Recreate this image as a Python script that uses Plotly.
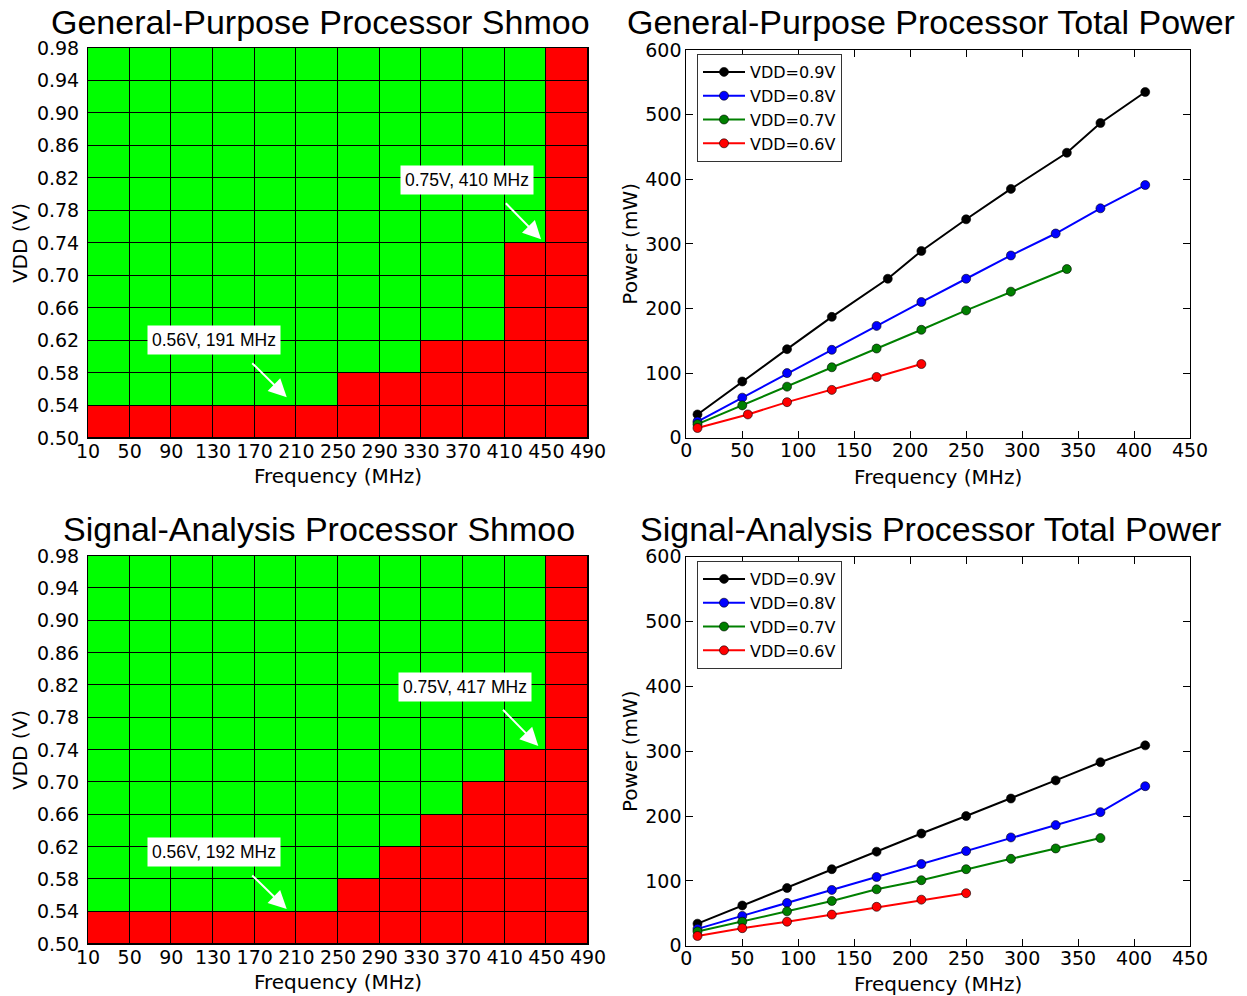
import plotly.graph_objects as go

# ---- shmoo grid axes ----
freq_ticks = [10, 50, 90, 130, 170, 210, 250, 290, 330, 370, 410, 450, 490]
vdd_ticks = [0.50, 0.54, 0.58, 0.62, 0.66, 0.70, 0.74, 0.78, 0.82, 0.86, 0.90, 0.94, 0.98]

# first failing frequency bin (MHz) for each VDD row, bottom row first
gp_first_fail = [10, 250, 330, 410, 410, 410, 450, 450, 450, 450, 450, 450]
sa_first_fail = [10, 250, 290, 330, 370, 410, 450, 450, 450, 450, 450, 450]

# ---- total power curves (mW) ----
gp_f_09 = [10, 50, 90, 130, 180, 210, 250, 290, 340, 370, 410]
gp_p_09 = [36, 87, 137, 187, 246, 289, 338, 385, 441, 487, 535]
gp_f_08 = [10, 50, 90, 130, 170, 210, 250, 290, 330, 370, 410]
gp_p_08 = [25, 62, 100, 136, 173, 210, 246, 282, 316, 355, 391]
gp_f_07 = [10, 50, 90, 130, 170, 210, 250, 290, 340]
gp_p_07 = [21, 50, 79, 109, 138, 167, 197, 226, 261]
gp_f_06 = [10, 55, 90, 130, 170, 210]
gp_p_06 = [15, 36, 55, 74, 94, 114]

sa_f_09 = [10, 50, 90, 130, 170, 210, 250, 290, 330, 370, 410]
sa_p_09 = [34, 62, 89, 118, 145, 173, 200, 227, 255, 283, 309]
sa_f_08 = [10, 50, 90, 130, 170, 210, 250, 290, 330, 370, 410]
sa_p_08 = [26, 46, 66, 86, 106, 126, 146, 167, 186, 206, 246]
sa_f_07 = [10, 50, 90, 130, 170, 210, 250, 290, 330, 370]
sa_p_07 = [22, 37, 53, 69, 87, 101, 118, 134, 150, 166]
sa_f_06 = [10, 50, 90, 130, 170, 210, 250]
sa_p_06 = [15, 27, 37, 48, 60, 71, 81]

vdd_labels = ["VDD=0.9V", "VDD=0.8V", "VDD=0.7V", "VDD=0.6V"]
line_colors = ["#000000", "#0000ff", "#008000", "#ff0000"]

power_x_ticks = [0, 50, 100, 150, 200, 250, 300, 350, 400, 450]
power_y_ticks = [0, 100, 200, 300, 400, 500, 600]

# annotation callouts: (text, text centre, arrow tail, arrow tip)
gp_notes = [
    ("0.75V, 410 MHz", (374.3, 0.8175), (409.7, 0.7908), (444.9, 0.7446)),
    ("0.56V, 191 MHz", (130.8, 0.6202), (166.2, 0.5939), (200.8, 0.5501)),
]
sa_notes = [
    ("0.75V, 417 MHz", (371.9, 0.8176), (407.0, 0.7916), (442.3, 0.7450)),
    ("0.56V, 192 MHz", (130.8, 0.6136), (166.2, 0.5866), (200.8, 0.5432)),
]

W, H = 1247, 996
TICK_FONT = dict(family="DejaVu Sans", size=19, color="#000000")
LABEL_FONT = dict(family="DejaVu Sans", size=20, color="#000000")
TITLE_FONT = dict(family="Liberation Sans", size=34, color="#000000")


def px_x(p):
    return p / W


def px_y(p):
    return 1 - p / H


def shmoo_z(first_fail):
    lefts = freq_ticks[:-1]
    return [[1 if f < ff else 0 for f in lefts] for ff in first_fail]


fig = go.Figure()

cell_x = [(a + b) / 2 for a, b in zip(freq_ticks[:-1], freq_ticks[1:])]
cell_y = [(a + b) / 2 for a, b in zip(vdd_ticks[:-1], vdd_ticks[1:])]

for first_fail, xa, ya in [(gp_first_fail, "x", "y"), (sa_first_fail, "x3", "y3")]:
    fig.add_trace(go.Heatmap(
        x=cell_x, y=cell_y, z=shmoo_z(first_fail),
        colorscale=[[0, "#ff0000"], [1, "#00ff00"]], zmin=0, zmax=1,
        showscale=False, xgap=1, ygap=1, hoverinfo="skip",
        xaxis=xa, yaxis=ya,
    ))
    # black backing so cell gaps read as grid lines
    fig.add_shape(type="rect", xref=xa, yref=ya,
                  x0=freq_ticks[0], x1=freq_ticks[-1], y0=vdd_ticks[0], y1=vdd_ticks[-1],
                  fillcolor="#000000", line_width=0, layer="below")

power_sets = [
    ([(gp_f_09, gp_p_09), (gp_f_08, gp_p_08), (gp_f_07, gp_p_07), (gp_f_06, gp_p_06)], "x2", "y2", "legend"),
    ([(sa_f_09, sa_p_09), (sa_f_08, sa_p_08), (sa_f_07, sa_p_07), (sa_f_06, sa_p_06)], "x4", "y4", "legend2"),
]
for series, xa, ya, leg in power_sets:
    for (fx, py), name, col in zip(series, vdd_labels, line_colors):
        fig.add_trace(go.Scatter(
            x=fx, y=py, name=name, mode="lines+markers",
            line=dict(color=col, width=2),
            marker=dict(color=col, size=9, line=dict(color="#000000", width=0.6)),
            xaxis=xa, yaxis=ya, legend=leg, legendgroup=leg + name,
        ))

annotations = []
for notes, xa, ya in [(gp_notes, "x", "y"), (sa_notes, "x3", "y3")]:
    for text, (tx, ty), (ax, ay), (hx, hy) in notes:
        annotations.append(dict(
            x=hx, y=hy, ax=ax, ay=ay, xref=xa, yref=ya, axref=xa, ayref=ya,
            text="", showarrow=True, arrowhead=2, arrowsize=1.8, arrowwidth=2,
            arrowcolor="#ffffff",
        ))
        annotations.append(dict(
            x=tx, y=ty, xref=xa, yref=ya, text=text, showarrow=False,
            font=dict(family="Liberation Sans", size=17.5, color="#000000"),
            bgcolor="#ffffff", borderpad=4,
        ))

titles = [
    ("General-Purpose Processor Shmoo", 320, 22),
    ("General-Purpose Processor Total Power", 931, 22),
    ("Signal-Analysis Processor Shmoo", 319, 529),
    ("Signal-Analysis Processor Total Power", 930, 529),
]
for text, cx, cy in titles:
    annotations.append(dict(
        x=px_x(cx), y=px_y(cy), xref="paper", yref="paper", text=text,
        showarrow=False, font=TITLE_FONT, xanchor="center", yanchor="middle",
    ))


def shmoo_axes(dom_x, dom_y, anchor_x, anchor_y):
    xa = dict(domain=dom_x, anchor=anchor_y, range=[freq_ticks[0], freq_ticks[-1]],
              tickmode="array", tickvals=freq_ticks, ticktext=[str(f) for f in freq_ticks],
              tickfont=TICK_FONT, ticks="", showgrid=False, zeroline=False,
              showline=True, linecolor="#000000", linewidth=1, mirror=True,
              title=dict(text="Frequency (MHz)", font=LABEL_FONT, standoff=8),
              ticklabelstandoff=-4, automargin=False)
    ya = dict(domain=dom_y, anchor=anchor_x, range=[vdd_ticks[0], vdd_ticks[-1]],
              tickmode="array", tickvals=vdd_ticks, ticktext=[f"{v:.2f}" for v in vdd_ticks],
              tickfont=TICK_FONT, ticks="", showgrid=False, zeroline=False,
              showline=True, linecolor="#000000", linewidth=1, mirror=True,
              title=dict(text="VDD (V)", font=LABEL_FONT, standoff=3),
              ticklabelstandoff=4, automargin=False)
    return xa, ya


def power_axes(dom_x, dom_y, anchor_x, anchor_y):
    xa = dict(domain=dom_x, anchor=anchor_y, range=[0, 450],
              tickmode="array", tickvals=power_x_ticks,
              tickfont=TICK_FONT, ticks="inside", ticklen=7, tickcolor="#000000",
              showgrid=False, zeroline=False,
              showline=True, linecolor="#000000", linewidth=1, mirror="allticks",
              title=dict(text="Frequency (MHz)", font=LABEL_FONT, standoff=10),
              ticklabelstandoff=-5, automargin=False)
    ya = dict(domain=dom_y, anchor=anchor_x, range=[0, 600],
              tickmode="array", tickvals=power_y_ticks,
              tickfont=TICK_FONT, ticks="inside", ticklen=7, tickcolor="#000000",
              showgrid=False, zeroline=False,
              showline=True, linecolor="#000000", linewidth=1, mirror="allticks",
              title=dict(text="Power (mW)", font=LABEL_FONT, standoff=2),
              ticklabelstandoff=0, automargin=False)
    return xa, ya


shmoo_dx = [px_x(88), px_x(588)]
power_dx = [px_x(686.3), px_x(1190)]

x1, y1 = shmoo_axes(shmoo_dx, [px_y(438), px_y(48)], "x", "y")
x2, y2 = power_axes(power_dx, [px_y(437.7), px_y(50)], "x2", "y2")
x3, y3 = shmoo_axes(shmoo_dx, [px_y(944), px_y(556)], "x3", "y3")
x4, y4 = power_axes(power_dx, [px_y(945.7), px_y(556.7)], "x4", "y4")

legend_style = dict(
    font=dict(family="DejaVu Sans", size=16, color="#000000"),
    bgcolor="#ffffff", bordercolor="#333333", borderwidth=1,
    xanchor="left", yanchor="top", itemwidth=42, tracegroupgap=0,
)

fig.update_layout(
    width=W, height=H, margin=dict(l=0, r=0, t=0, b=0, autoexpand=False),
    paper_bgcolor="#ffffff", plot_bgcolor="#ffffff",
    xaxis=x1, yaxis=y1, xaxis2=x2, yaxis2=y2,
    xaxis3=x3, yaxis3=y3, xaxis4=x4, yaxis4=y4,
    legend=dict(x=px_x(697), y=px_y(54), **legend_style),
    legend2=dict(x=px_x(697), y=px_y(561), **legend_style),
    annotations=annotations,
    showlegend=True,
)

fig.write_html("out.html")
